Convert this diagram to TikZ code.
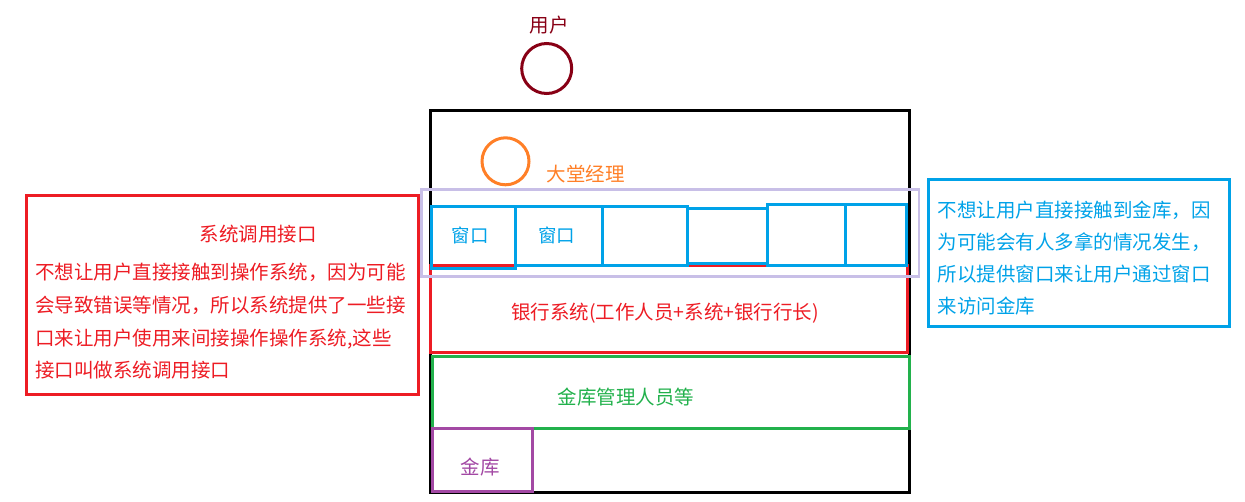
\documentclass[tikz,border=0pt]{standalone}
\usepackage{fontspec}
\newfontfamily\cjk{Noto Sans CJK SC}
\definecolor{cdred}{HTML}{880015}
\definecolor{corange}{HTML}{FF7F27}
\definecolor{cred}{HTML}{ED1C24}
\definecolor{cblue}{HTML}{00A2E8}
\definecolor{clav}{HTML}{C8BFE7}
\definecolor{cgreen}{HTML}{22B14C}
\definecolor{cpurple}{HTML}{A349A4}
\tikzset{
  box/.style={draw, line width=3pt, inner sep=0pt, outer sep=0pt},
  txt/.style={inner sep=0pt, font=\cjk\fontsize{19.5}{24}\selectfont, text height=0.88em, text depth=0.12em},
  win/.style={box, draw=cblue, text=cblue, font=\cjk\fontsize{18.5}{24}\selectfont},
  para/.style={inner sep=0pt, anchor=base west, align=left}
}
\begin{document}
\begin{tikzpicture}[x=1pt,y=-1pt]
\useasboundingbox (0,0) rectangle (1245,501);
% user
\node[txt, text=cdred] (usert) at (549,29) {用户};
\node[draw=cdred, line width=3pt, circle, minimum size=50pt, inner sep=0pt] (user) at (546.7,68.5) {};
% outer black
\node[box, draw=black, minimum width=479pt, minimum height=382pt] (bank) at (669.5,301) {};
% red bank system
\node[box, draw=cred, minimum width=477pt, minimum height=86.5pt] (sys) at (668.5,308.75) {};
\node[txt, text=cred] (syst) at (665,315.7) {银行系统(工作人员+系统+银行行长)};
% green
\node[box, draw=cgreen, minimum width=476.6pt, minimum height=72.3pt] (mgr) at (671,392.2) {};
\node[txt, text=cgreen] (mgrt) at (626,400.7) {金库管理人员等};
% purple vault
\node[box, draw=cpurple, minimum width=100pt, minimum height=63.4pt] (vault) at (482.7,460) {};
\node[txt, text=cpurple] (vaultt) at (480,470.7) {金库};
% windows
\node[win, minimum width=84pt, minimum height=62pt] (w1) at (473,237) {};
\node[txt, text=cblue, font=\cjk\fontsize{18.5}{24}\selectfont] (w1t) at (470,239) {窗口};
\node[win, minimum width=87.7pt, minimum height=59.5pt] (w2) at (558.9,235.75) {};
\node[txt, text=cblue, font=\cjk\fontsize{18.5}{24}\selectfont] (w2t) at (556.7,239) {窗口};
\node[win, minimum width=85pt, minimum height=59.5pt] (w3) at (645.2,235.75) {};
\node[win, minimum width=80.3pt, minimum height=55pt] (w4) at (727.8,235.5) {};
\node[win, minimum width=77.7pt, minimum height=61.5pt] (w5) at (806.8,234.75) {};
\node[win, minimum width=61pt, minimum height=61pt] (w6) at (876.2,234.5) {};
% lavender
\node[draw=clav, line width=2.5pt, inner sep=0pt, minimum width=497.3pt, minimum height=87.4pt] (lav) at (670.3,233) {};
% lobby manager
\node[draw=corange, line width=3pt, circle, minimum size=47pt, inner sep=0pt] (lobby) at (505.5,161.3) {};
\node[txt, text=corange] (lobbyt) at (585.5,178) {大堂经理};
% left red note
\node[box, draw=cred, minimum width=392.3pt, minimum height=199.3pt] (note) at (222.2,294.7) {};
\node[txt, text=cred] (notet) at (258,238) {系统调用接口};
\node[para, text=cred, text width=385pt, font=\cjk\fontsize{19.5}{32.8}\selectfont] (noteb) at (35,279.5)
 {不想让用户直接接触到操作系统，因为可能\\会导致错误等情况，所以系统提供了一些接\\口来让用户使用来间接操作操作系统,这些\\接口叫做系统调用接口};
% right blue note
\node[box, draw=cblue, minimum width=301pt, minimum height=146.7pt] (note2) at (1078.8,253.3) {};
\node[para, text=cblue, text width=285pt, font=\cjk\fontsize{19.5}{31.9}\selectfont] (note2b) at (937.3,217.7)
 {不想让用户直接接触到金库，因\\为可能会有人多拿的情况发生，\\所以提供窗口来让用户通过窗口\\来访问金库};
\end{tikzpicture}
\end{document}
